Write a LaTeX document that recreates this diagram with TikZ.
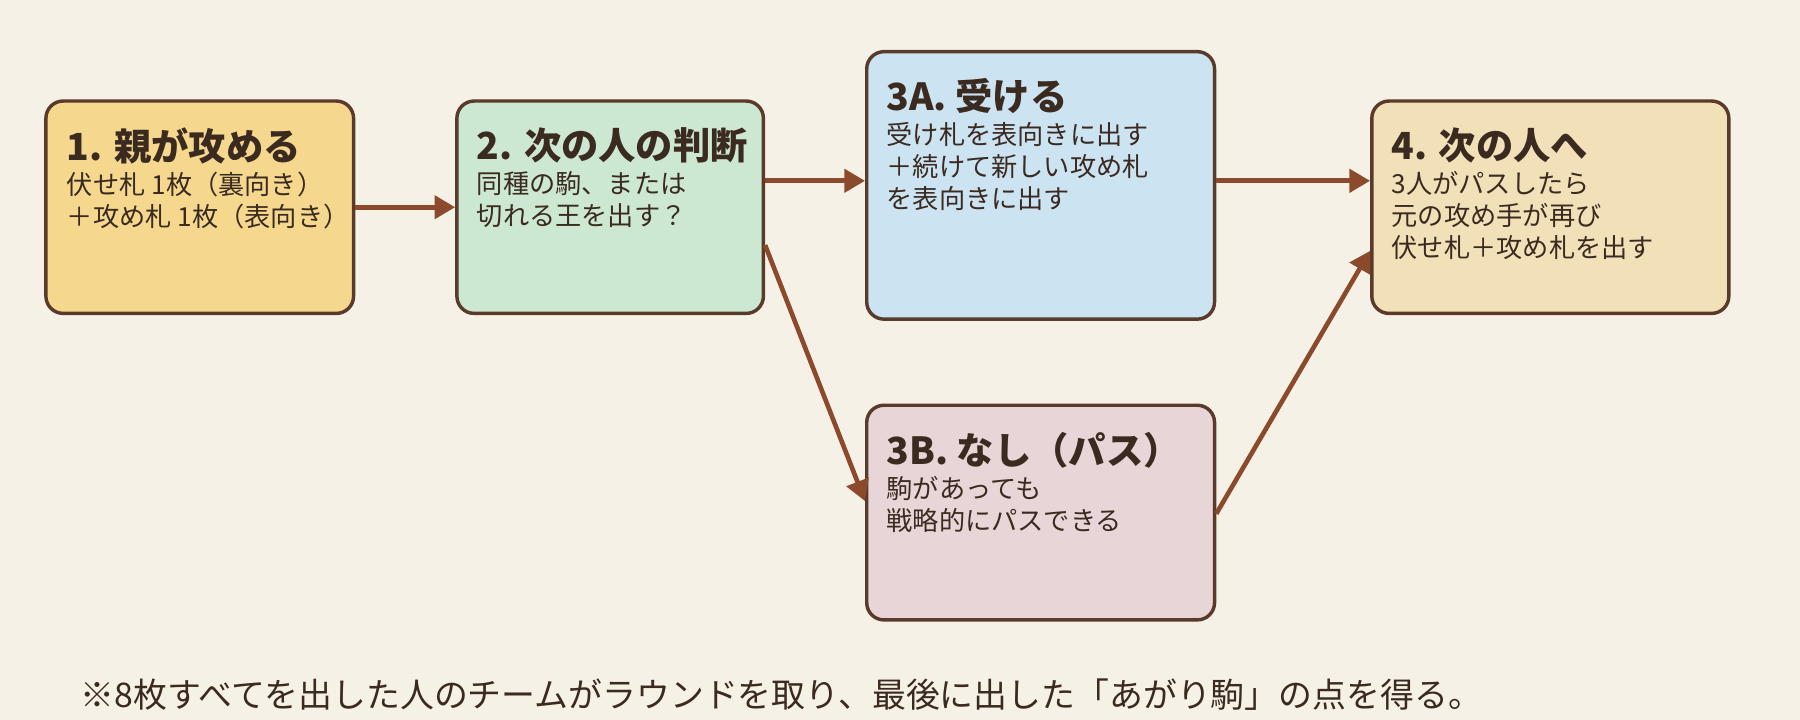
\documentclass[tikz,border=0pt]{standalone}
\usepackage{fontspec}
\setmainfont{Noto Sans CJK JP}
\usetikzlibrary{arrows.meta, positioning, calc}
\definecolor{bgcream}{HTML}{F6F1E6}
\definecolor{edgebrown}{HTML}{5A3A2A}
\definecolor{arrowbrown}{HTML}{8B4A2B}
\definecolor{textdark}{HTML}{3A2A20}
\definecolor{step1}{HTML}{F5D88E}
\definecolor{step2}{HTML}{CDE8D2}
\definecolor{step3a}{HTML}{CCE3F2}
\definecolor{step3b}{HTML}{E8D5D8}
\definecolor{step4}{HTML}{F2E0B8}

\begin{document}
\begin{tikzpicture}[x=0.02cm, y=-0.02cm,
    box/.style={rectangle, rounded corners=0.3cm, draw=edgebrown, line width=1.7pt, inner sep=0pt},
    txt/.style={anchor=north west, align=left, inner sep=0pt, text=textdark,
                font=\fontsize{13}{15.8}\selectfont},
    flow/.style={-{Triangle[length=0.36cm, width=0.4cm]}, line width=2.3pt, draw=arrowbrown}]
    \fill[bgcream] (0,0) rectangle (1568,627);

    % Boxes
    \node[box, fill=step1, minimum width=268*0.02cm, minimum height=185*0.02cm] (b1) at (174, 180.5) {};
    \node[box, fill=step2, minimum width=267*0.02cm, minimum height=185*0.02cm] (b2) at (531.5, 180.5) {};
    \node[box, fill=step3a, minimum width=303*0.02cm, minimum height=233*0.02cm] (b3a) at (906.5, 161.5) {};
    \node[box, fill=step3b, minimum width=303*0.02cm, minimum height=187*0.02cm] (b3b) at (906.5, 446.5) {};
    \node[box, fill=step4, minimum width=311*0.02cm, minimum height=185*0.02cm] (b4) at (1350.5, 180.5) {};

    % Texts
    \node[txt] (t1) at (58, 111) {\textbf{\fontsize{18.5}{20}\selectfont 1. 親が攻める}\\[1pt]伏せ札 1枚（裏向き）\\＋攻め札 1枚（表向き）};
    \node[txt] (t2) at (415, 111) {\textbf{\fontsize{18.5}{20}\selectfont 2. 次の人の判断}\\[1pt]同種の駒、または\\切れる王を出す？};
    \node[txt] (t3a) at (772, 68) {\textbf{\fontsize{18.5}{20}\selectfont 3A. 受ける}\\[1pt]受け札を表向きに出す\\＋続けて新しい攻め札\\を表向きに出す};
    \node[txt] (t3b) at (772, 376) {\textbf{\fontsize{18.5}{20}\selectfont 3B. なし（パス）}\\[1pt]駒があっても\\戦略的にパスできる};
    \node[txt] (t4) at (1212, 111) {\textbf{\fontsize{18.5}{20}\selectfont 4. 次の人へ}\\[1pt]3人がパスしたら\\元の攻め手が再び\\伏せ札＋攻め札を出す};

    % Note
    \node[txt, anchor=west, font=\fontsize{16.8}{18}\selectfont] (note) at (70, 605)
        {※8枚すべてを出した人のチームがラウンドを取り、最後に出した「あがり駒」の点を得る。};

    % Arrows
    \draw[flow] (b1.east) -- (b2.west);
    \draw[flow] ($(b2.east)+(0,-23)$) -- ($(b3a.west)+(0,-4)$);
    \draw[flow] ($(b2.east)+(0,33)$) -- ($(b3b.west)+(0,-10)$);
    \draw[flow] ($(b3a.east)+(0,-4)$) -- ($(b4.west)+(0,-23)$);
    \draw[flow] ($(b3b.east)+(0,1)$) -- ($(b4.west)+(0,38)$);
\end{tikzpicture}
\end{document}
